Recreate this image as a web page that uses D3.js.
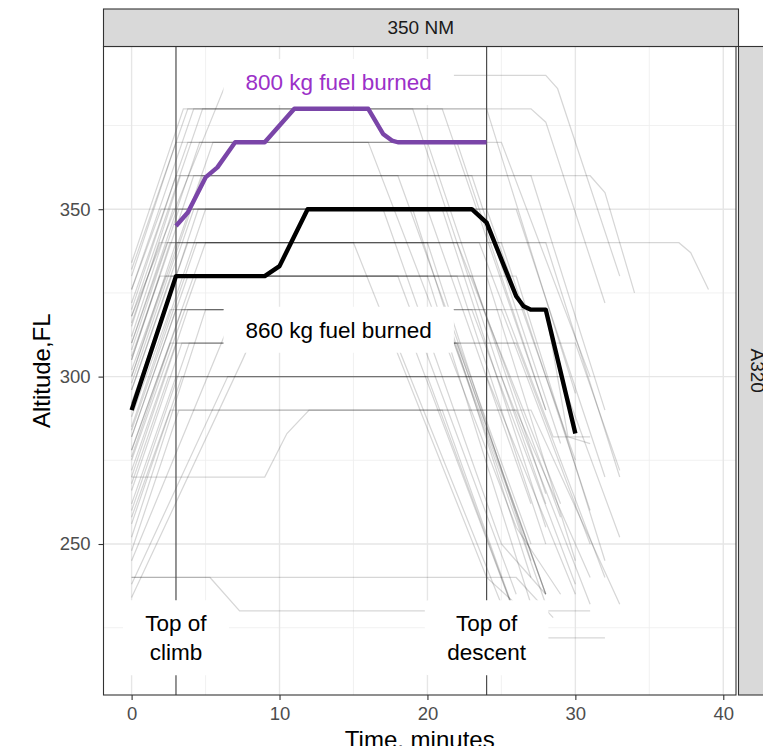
<!DOCTYPE html>
<html><head><meta charset="utf-8">
<script src="https://cdn.jsdelivr.net/npm/d3@7"></script>
<style>body{margin:0;background:#fff} svg{display:block;font-family:"Liberation Sans",Arial,sans-serif}</style>
</head><body><svg id="c" width="763" height="746"></svg>
<script>
// ---------- data ----------
const facetTop = "350 NM";
const facetRight = "A320";
const xTicks = [0, 10, 20, 30, 40];
const xMinor = [5, 15, 25, 35];
const yTicks = [250, 300, 350];
const yMinor = [225, 275, 325, 375];
const markerTimes = [3, 24];
const xTitle = "Time, minutes";
const yTitle = "Altitude,FL";

// highlighted flight, 860 kg fuel burned  [time min, flight level]
const fuel860 = [[0,290],[3,330],[9,330],[10,333],[11.9,350],[23,350],[24,346],[26,324],[26.5,321],[27,320],[28,320],[30,283]];
// highlighted flight, 800 kg fuel burned
const fuel800 = [[3,345],[3.8,349],[5,359.5],[5.8,362.5],[7,370],[9,370],[11,380],[16,380],[17,372.5],[17.6,370.5],[18,370],[24,370]];

// other A320 flights on the 350 NM route
const otherFlights = [
 [[0,318],[6.6,390],[28,390],[28.8,386],[33,330]],
 [[0,332],[3.8,380],[27,380],[28,376],[32,322]],
 [[0,318],[4.8,380],[19,380],[25,300],[28,262]],
 [[0,326],[4.2,380],[24,380],[30,295]],
 [[0,334],[3.5,380],[21,380],[28,290]],
 [[0,322],[3.8,370],[22,370],[28,290]],
 [[0,310],[4.6,370],[16,370],[26,255],[29,235]],
 [[0,330],[3,370],[25,370],[31,300]],
 [[0,300],[5.5,370],[20,370],[28,265]],
 [[0,320],[3,360],[31,360],[32,355],[34,325]],
 [[0,305],[4.2,360],[27,360],[32,290]],
 [[0,298],[4.8,360],[18,360],[27,250]],
 [[0,315],[3.3,360],[23,360],[29,280]],
 [[0,308],[3.2,350],[26,350],[32,270]],
 [[0,296],[4.2,350],[21,350],[28,255]],
 [[0,290],[4.5,350],[17,350],[25,250],[28,235]],
 [[0,312],[2.8,350],[24,350],[30,275]],
 [[0,285],[5,350],[19,350],[27,240]],
 [[0,326],[2,350],[20,350],[27,262]],
 [[0,316],[1.9,340],[37,340],[37.8,337],[39,326]],
 [[0,300],[3,340],[23.5,340],[28.5,282],[31,282]],
 [[0,292],[3.8,340],[20,340],[27,245]],
 [[0,284],[4.4,340],[25,340],[31,260]],
 [[0,305],[2.6,340],[15,340],[24,240],[26,232]],
 [[0,278],[5,340],[28,340],[33,270]],
 [[0,310],[2.4,340],[22,340],[29,262]],
 [[0,302],[2.3,330],[22,330],[28,250]],
 [[0,292],[3,330],[26,330],[32,245]],
 [[0,282],[3.8,330],[18,330],[26,235]],
 [[0,296],[2.7,330],[24,330],[30,245]],
 [[0,275],[4.4,330],[20,330],[27,232]],
 [[0,306],[1.9,330],[23,330],[29,258]],
 [[0,288],[2.6,320],[28,320],[29.5,282],[31,280]],
 [[0,276],[3.4,320],[21,320],[28,232]],
 [[0,270],[3.8,320],[25,320],[31,250]],
 [[0,282],[3,320],[17,320],[25,232]],
 [[0,252],[5,320],[23,320],[30,238]],
 [[0,245],[7,320],[21,320],[28,235]],
 [[0,278],[2.6,310],[30,310],[33,272]],
 [[0,266],[3.4,310],[22,310],[28,235]],
 [[0,260],[3.9,310],[26,310],[32,240]],
 [[0,272],[3,310],[19,310],[26,228]],
 [[0,234],[7.5,305],[8,310],[22,310],[28,235]],
 [[0,268],[2.5,300],[29,300],[33,252]],
 [[0,256],[3.4,300],[20,300],[26,228]],
 [[0,262],[3,300],[24,300],[30,235]],
 [[0,238],[6.5,300],[25,300],[31,232]],
 [[0,258],[2.6,290],[26,290],[31,240]],
 [[0,248],[3.2,290],[21,290],[26.5,222],[32,222]],
 [[0,270],[9,270],[10.5,283],[12,290],[27,290],[33,232]],
 [[0,240],[26,240],[28.5,228]],
 [[0,240],[5.3,240],[7.3,230],[31,230]]
];

// annotation labels: [time, FL, text lines]
const labelTimes = [14, 14, 3, 24];
const labelLevels = [388, 314, 222, 222];
const labelTexts = [["800 kg fuel burned"], ["860 kg fuel burned"], ["Top of", "climb"], ["Top of", "descent"]];
const labelColors = ["#9B30C8", "#000000", "#000000", "#000000"];

// ---------- drawing ----------
const P = {l:103.5, r:736, t:46.5, b:695};
const x = d3.scaleLinear().domain([-1.9, 40.86]).range([P.l, P.r]);
const y = d3.scaleLinear().domain([204.9, 398.6]).range([P.b, P.t]);
const svg = d3.select("#c");

svg.append("rect").attr("x",P.l).attr("y",P.t).attr("width",P.r-P.l).attr("height",P.b-P.t).attr("fill","#fff");

svg.append("defs").append("clipPath").attr("id","clip").append("rect")
  .attr("x",P.l).attr("y",P.t).attr("width",P.r-P.l).attr("height",P.b-P.t);

const grid = svg.append("g");
grid.selectAll(".xm").data(xMinor).join("line")
  .attr("x1",d=>x(d)).attr("x2",d=>x(d)).attr("y1",P.t).attr("y2",P.b)
  .attr("stroke","#EEEEEE").attr("stroke-width",0.8);
grid.selectAll(".ym").data(yMinor).join("line")
  .attr("y1",d=>y(d)).attr("y2",d=>y(d)).attr("x1",P.l).attr("x2",P.r)
  .attr("stroke","#EEEEEE").attr("stroke-width",0.8);
grid.selectAll(".xM").data(xTicks).join("line")
  .attr("x1",d=>x(d)).attr("x2",d=>x(d)).attr("y1",P.t).attr("y2",P.b)
  .attr("stroke","#E6E6E6").attr("stroke-width",1.4);
grid.selectAll(".yM").data(yTicks).join("line")
  .attr("y1",d=>y(d)).attr("y2",d=>y(d)).attr("x1",P.l).attr("x2",P.r)
  .attr("stroke","#E6E6E6").attr("stroke-width",1.4);

const plot = svg.append("g").attr("clip-path","url(#clip)");
const line = d3.line().x(d=>x(d[0])).y(d=>y(d[1]));

plot.append("g").selectAll("path").data(otherFlights).join("path")
  .attr("d",line).attr("fill","none").attr("stroke","#000")
  .attr("stroke-opacity",0.16).attr("stroke-width",1.25);

plot.append("g").selectAll("line").data(markerTimes).join("line")
  .attr("x1",d=>x(d)).attr("x2",d=>x(d)).attr("y1",P.t).attr("y2",P.b)
  .attr("stroke","#4d4d4d").attr("stroke-width",1.2);

plot.append("path").datum(fuel800).attr("d",line).attr("fill","none")
  .attr("stroke","#7A45A8").attr("stroke-width",4.4).attr("stroke-linejoin","round").attr("stroke-linecap","butt");
plot.append("path").datum(fuel860).attr("d",line).attr("fill","none")
  .attr("stroke","#000").attr("stroke-width",4.4).attr("stroke-linejoin","round").attr("stroke-linecap","butt");

// labels
const FS = 22.5, LH = 29;
labelTexts.forEach((lines,i)=>{
  const cx = x(labelTimes[i]), cy = y(labelLevels[i]);
  const g = plot.append("g");
  const rect = g.append("rect").attr("fill","#fff").attr("rx",4);
  const t = g.append("text").attr("text-anchor","middle").attr("font-size",FS).attr("fill",labelColors[i]);
  const n = lines.length;
  lines.forEach((s,j)=>{
    t.append("tspan").attr("x",cx).attr("y", cy + (j-(n-1)/2)*LH + 0.36*FS).text(s);
  });
  const w = t.node().getBBox().width + 44;
  const h = n*LH + 17;
  rect.attr("x",cx-w/2).attr("y",cy-h/2).attr("width",w).attr("height",h);
});

// panel border
svg.append("rect").attr("x",P.l).attr("y",P.t).attr("width",P.r-P.l).attr("height",P.b-P.t)
  .attr("fill","none").attr("stroke","#333").attr("stroke-width",1.1);

// strips
svg.append("rect").attr("x",P.l).attr("y",9).attr("width",P.r-P.l+2.5).attr("height",P.t-9)
  .attr("fill","#D9D9D9").attr("stroke","#333").attr("stroke-width",1.1);
svg.append("text").attr("x",(P.l+P.r)/2+1).attr("y",(9+P.t)/2).attr("dominant-baseline","central")
  .attr("text-anchor","middle").attr("font-size",19).attr("fill","#1A1A1A").text(facetTop);
svg.append("rect").attr("x",738.5).attr("y",P.t).attr("width",40).attr("height",P.b-P.t)
  .attr("fill","#D9D9D9").attr("stroke","#333").attr("stroke-width",1.1);
svg.append("text").attr("transform",`translate(757,${(P.t+P.b)/2}) rotate(90)`)
  .attr("dominant-baseline","central").attr("text-anchor","middle").attr("font-size",19)
  .attr("fill","#1A1A1A").text(facetRight);

// axes
const ax = svg.append("g").attr("transform",`translate(0,${P.b})`)
  .call(d3.axisBottom(x).tickValues(xTicks).tickFormat(d3.format("d")).tickSize(5).tickPadding(7));
const ay = svg.append("g").attr("transform",`translate(${P.l},0)`)
  .call(d3.axisLeft(y).tickValues(yTicks).tickFormat(d3.format("d")).tickSize(5).tickPadding(8));
[ax,ay].forEach(a=>{
  a.select(".domain").remove();
  a.selectAll(".tick line").attr("stroke","#333").attr("stroke-width",1.1);
  a.selectAll(".tick text").attr("fill","#4D4D4D").attr("font-size",18.5)
    .attr("font-family","'Liberation Sans',Arial,sans-serif");
});

svg.append("text").attr("x",(P.l+P.r)/2).attr("y",748).attr("text-anchor","middle")
  .attr("font-size",24).attr("fill","#000").text(xTitle);
svg.append("text").attr("transform",`translate(50,${(P.t+P.b)/2}) rotate(-90)`)
  .attr("text-anchor","middle").attr("font-size",24).attr("fill","#000").text(yTitle);
</script></body></html>
